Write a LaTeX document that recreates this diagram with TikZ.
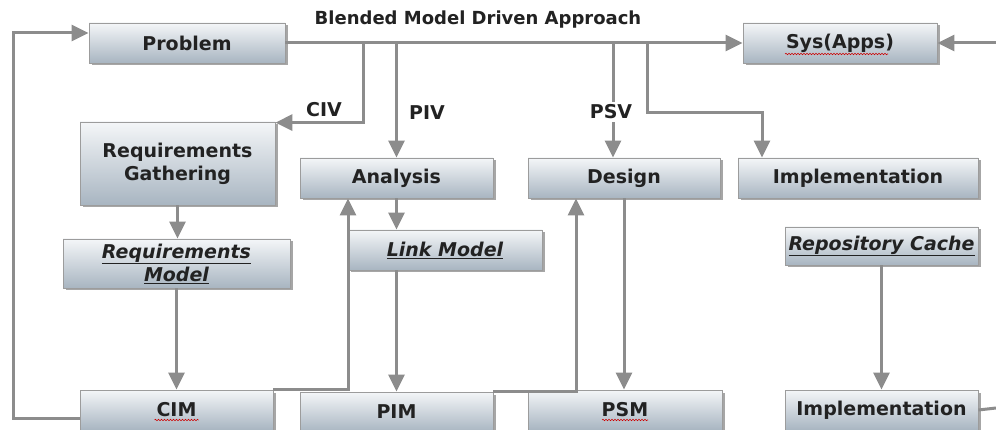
\documentclass[tikz,border=0pt]{standalone}
\usepackage{fontspec}
\setmainfont{DejaVu Sans}
\usetikzlibrary{arrows.meta,shadows,decorations.pathmorphing}
\definecolor{linegray}{HTML}{8C8C8C}
\definecolor{boxtop}{HTML}{F4F6F8}
\definecolor{boxbot}{HTML}{A8B5C1}
\definecolor{boxedge}{HTML}{9C9C9C}
\definecolor{txt}{HTML}{222222}
\begin{document}
\begin{tikzpicture}[x=1pt,y=-1pt,
  box/.style={draw=boxedge, line width=0.8pt, top color=boxtop, bottom color=boxbot,
    drop shadow={shadow xshift=2.5pt, shadow yshift=-2.5pt, fill=black, opacity=0.35},
    font=\fontsize{19}{23}\selectfont\bfseries, text=txt, align=center, inner sep=0pt},
  conn/.style={draw=linegray, line width=3pt, -{Triangle[length=17pt,width=16pt]}},
  plain/.style={draw=linegray, line width=3pt},
  lbl/.style={font=\fontsize{19}{23}\selectfont\bfseries, text=txt, inner sep=1pt},
  spell/.style={draw=red!80!black, line width=0.6pt, decorate, decoration={snake, segment length=3pt, amplitude=0.7pt}}]
\useasboundingbox[fill=white] (0,0) rectangle (996,430);

% nodes
\node[box, minimum width=196pt, minimum height=40pt] (prob) at (187,43) {Problem};
\node[box, minimum width=194pt, minimum height=40pt] (sys) at (840,43) {Sys(Apps)};
\node[box, minimum width=195pt, minimum height=83pt] (rg) at (177.5,163.5) {Requirements\\Gathering};
\node[box, minimum width=193pt, minimum height=40pt] (ana) at (396.5,178) {Analysis};
\node[box, minimum width=192pt, minimum height=40pt] (des) at (624,178) {Design};
\node[box, minimum width=240pt, minimum height=40pt] (imp) at (858,178) {Implementation};
\node[box, minimum width=227pt, minimum height=49pt] (rm) at (176.5,263.5) {\textit{\underline{Requirements}}\\\textit{\underline{Model}}};
\node[box, minimum width=194pt, minimum height=40pt] (lm) at (445,250) {\textit{\underline{Link Model}}};
\node[box, minimum width=193pt, minimum height=38pt] (rc) at (881.5,246) {\textit{\underline{Repository Cache}}};
\node[box, minimum width=193pt, minimum height=40pt] (cim) at (176.5,410) {CIM};
\node[box, minimum width=193pt, minimum height=40pt] (pim) at (396.5,412) {PIM};
\node[box, minimum width=194pt, minimum height=40pt] (psm) at (625,410) {PSM};
\node[box, minimum width=193pt, minimum height=40pt] (imp2) at (881.5,410) {Implementation};

% spell-check marks
\draw[spell] ([xshift=-55pt,yshift=-11pt]sys.center) -- ([xshift=48pt,yshift=-11pt]sys.center);
\draw[spell] ([xshift=-22pt,yshift=-10pt]cim.center) -- ([xshift=22pt,yshift=-10pt]cim.center);
\draw[spell] ([xshift=-23pt,yshift=-10pt]psm.center) -- ([xshift=23pt,yshift=-10pt]psm.center);

% title and labels
\node[lbl, font=\fontsize{18}{21}\selectfont\bfseries] (title) at (478,20) {Blended Model Driven Approach};
\node[lbl] (civ) at (324,110) {CIV};
\node[lbl] (piv) at (427,113) {PIV};

% free ends / junctions
\coordinate (rin) at (996,43);
\coordinate (rout) at (996,408);
\coordinate (jciv) at (363,43);
\coordinate (jimp) at (647,43);
\coordinate (lx) at (13,33);

% connectors
\draw[conn] (prob.east) -- (sys.west);
\draw[conn] (rin) -- (sys.east);
\draw[conn] ([yshift=-8pt]cim.west) -| (lx) -- ([yshift=10pt]prob.west);
\draw[conn] (jciv) |- ([yshift=-1pt]rg.north east);
\draw[conn] (ana.north |- prob.east) -- (ana.north);
\draw[conn] ([xshift=-11pt]des.north |- prob.east) -- ([xshift=-11pt]des.north);
\node[lbl, fill=white, inner sep=3pt] (psv) at (611,112) {PSV};
\draw[conn] (jimp) |- (762,113) -- ([xshift=-96pt]imp.north);
\draw[conn] (rg.south) -- (rg.south |- rm.north);
\draw[conn] (rm.south) -- (rm.south |- cim.north);
\draw[conn] (cim.north east) -| ([xshift=-48.5pt]ana.south);
\draw[conn] (ana.south) -- (ana.south |- lm.north);
\draw[conn] (ana.south |- lm.south) -- (pim.north);
\draw[conn] (pim.north east) -| ([xshift=-48pt]des.south);
\draw[conn] (des.south) -- (des.south |- psm.north);
\draw[conn] (rc.south) -- (imp2.north);
\draw[plain] (imp2.east) -- (rout);
\end{tikzpicture}
\end{document}
